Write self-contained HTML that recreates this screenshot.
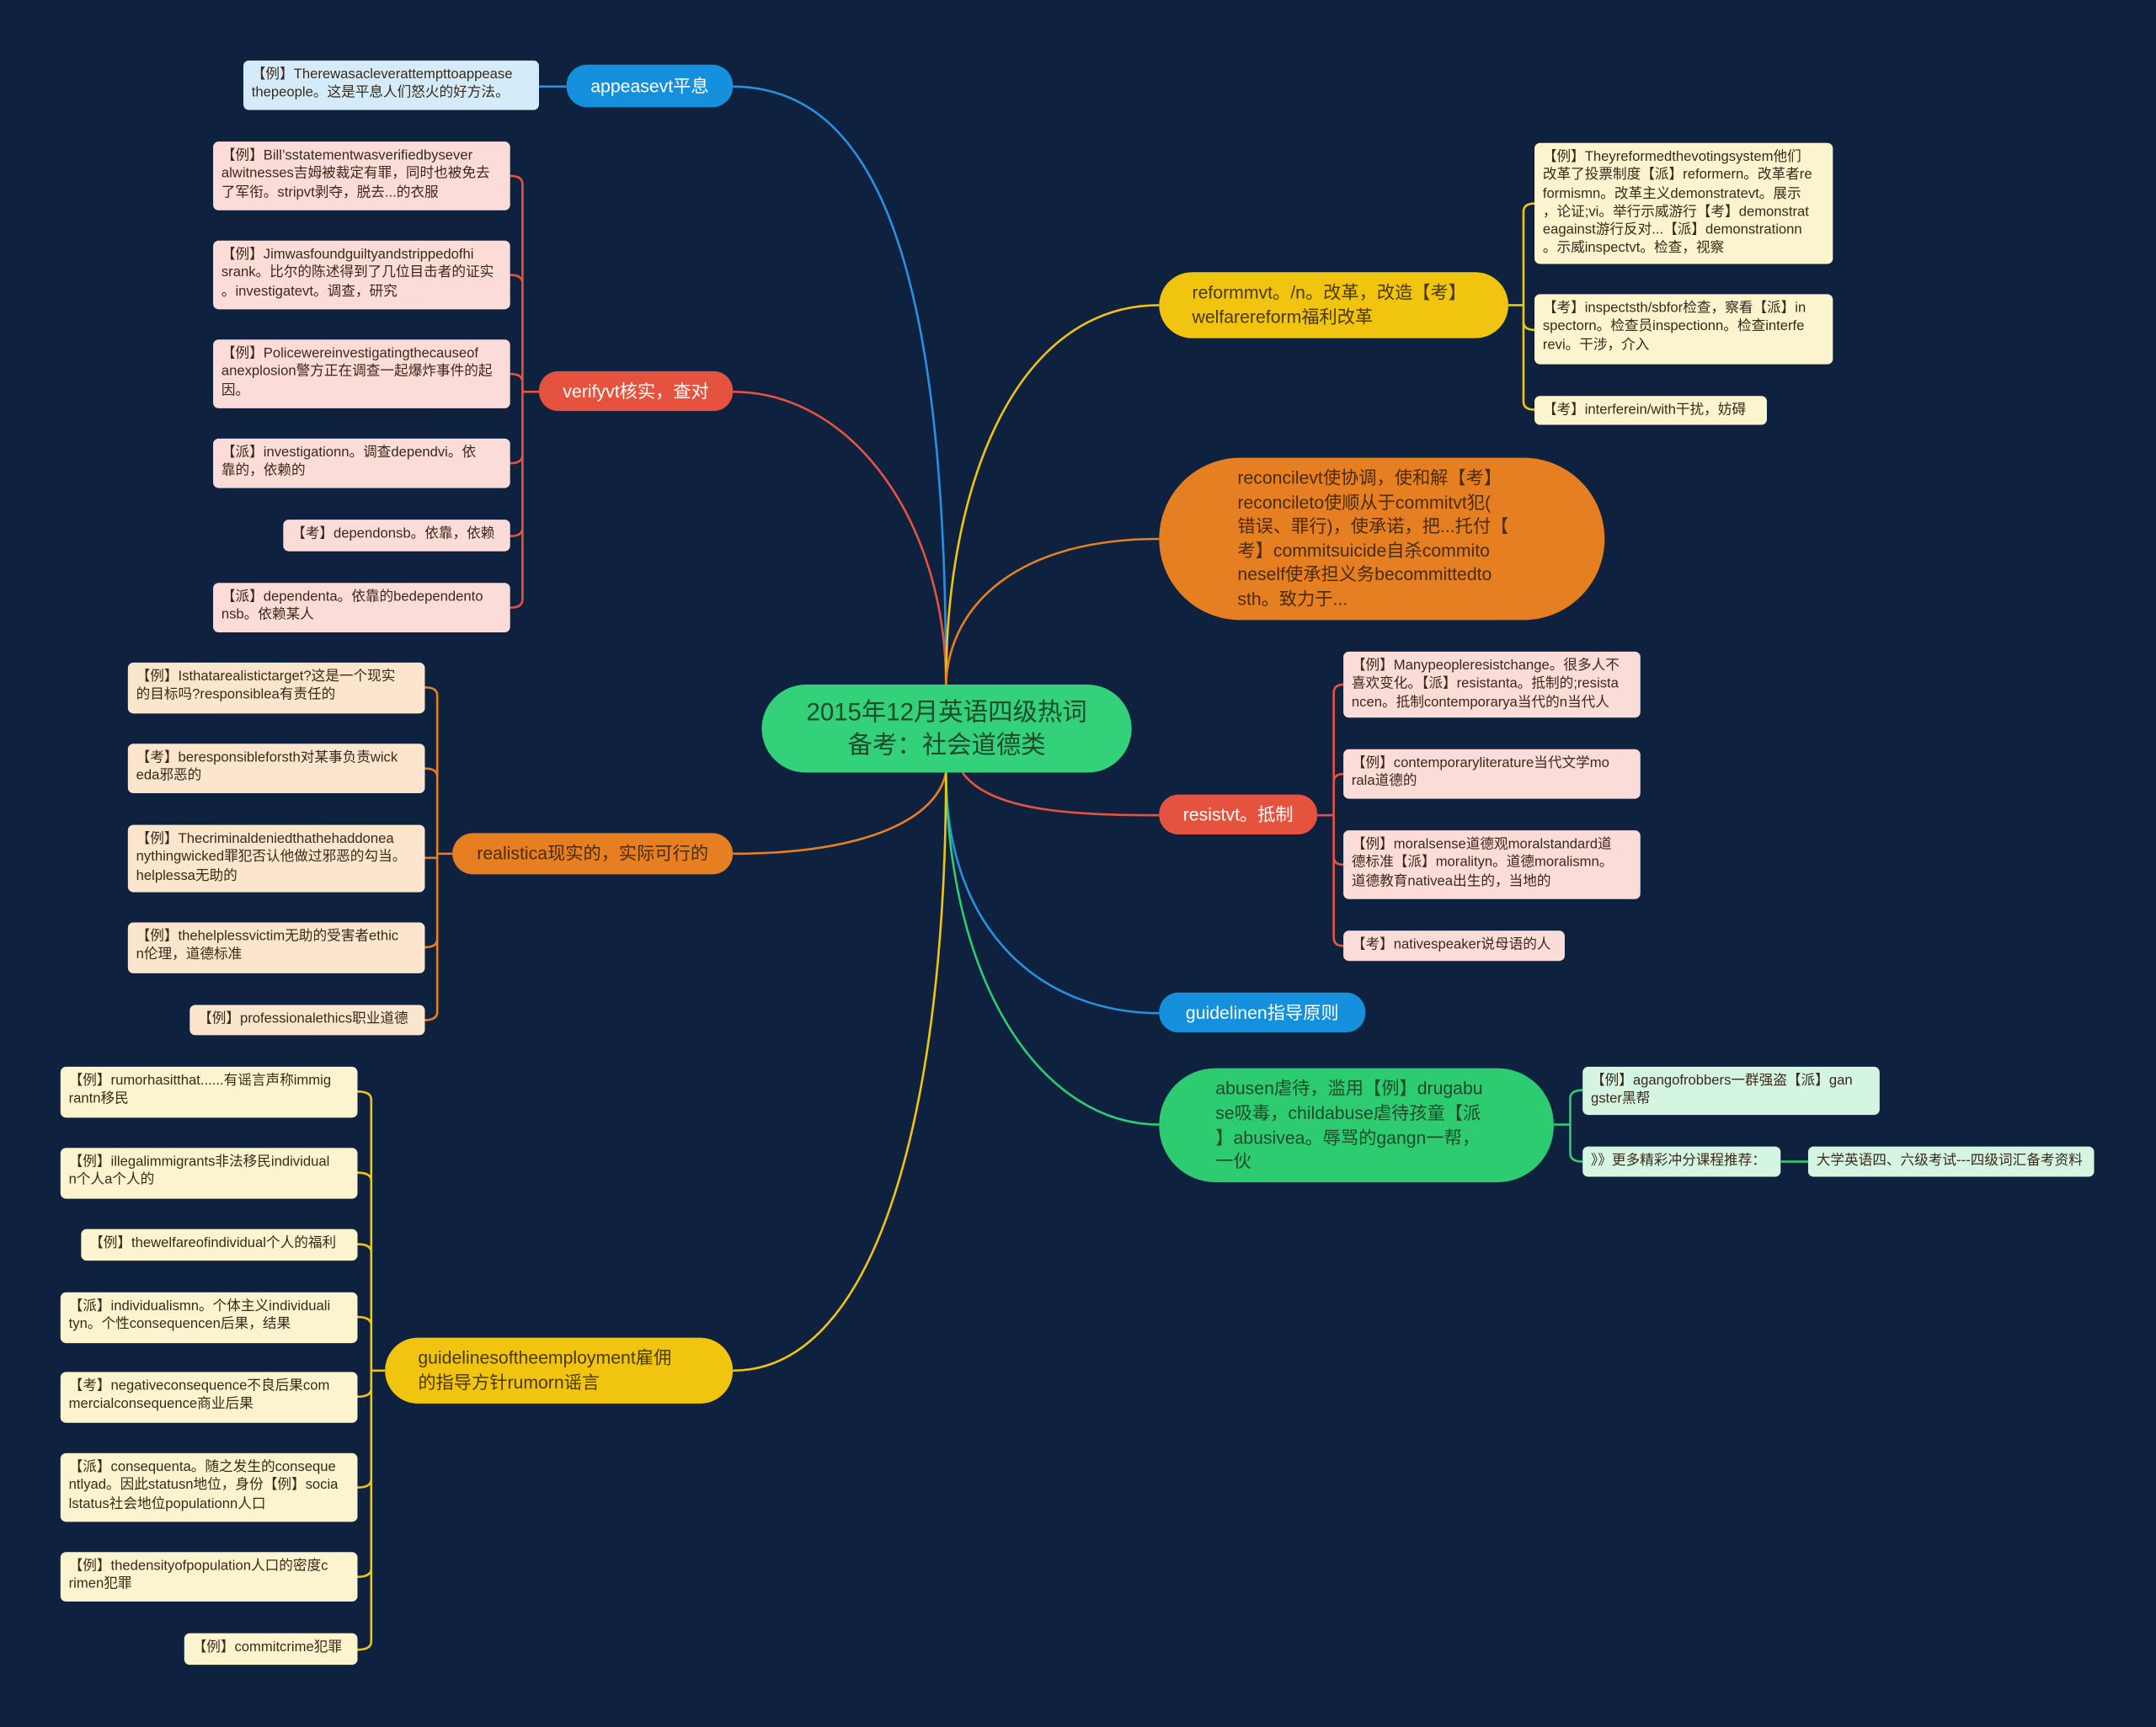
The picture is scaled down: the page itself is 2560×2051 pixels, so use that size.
<!DOCTYPE html>
<html><head><meta charset="utf-8"><style>
html,body{margin:0;padding:0;background:#0e2240;}
#root{position:relative;width:1568px;height:1256px;transform:scale(1.63265);transform-origin:0 0;background:#0e2240;overflow:hidden;font-family:"Liberation Sans","Noto Sans CJK SC",sans-serif;}
.n{position:absolute;box-sizing:border-box;white-space:nowrap;}
.c{font-size:10.2px;line-height:13.3px;padding:4px 6px;border-radius:4px;color:#3b2a1a;}
.y{background:#fcf3cf;}
.p{background:#fbdcd8;}
.o{background:#fce5cd;}
.g{background:#d5f5e3;}
.b{background:#d4ecfa;}
.m{display:flex;align-items:center;font-size:13px;line-height:17.6px;}
svg{position:absolute;left:0;top:0;}
</style></head><body><div id="root">
<svg width="1568" height="1256" fill="none" stroke-width="1.6">
<path d="M533,63 C640,63 688,200 688,498" stroke="#2a8fde"/>
<path d="M533,285 C620,285 688,380 688,498" stroke="#e5533f"/>
<path d="M843,222 C740,222 688,350 688,498" stroke="#f1c40f"/>
<path d="M843,392 C740,392 690,440 688,498" stroke="#e67e22"/>
<path d="M700,562 C720,590 780,593 843,593" stroke="#e5533f"/>
<path d="M688,562 C688,680 760,737 843,737" stroke="#2a8fde"/>
<path d="M688,562 C690,720 760,818 843,818" stroke="#2ecc71"/>
<path d="M533,621 C620,621 680,600 688,562" stroke="#e67e22"/>
<path d="M533,997 C640,997 688,800 688,562" stroke="#f1c40f"/>
<g stroke="#f1c40f"><path d="M1097,222 H1108 M1108,222 V154 Q1108,148 1116,148 M1108,222 V234 Q1108,240 1116,240 M1108,222 V292 Q1108,298 1116,298"/></g>
<g stroke="#e5533f"><path d="M958,593 H970 M970,593 V504 Q970,498 977,498 M970,593 V569 Q970,563 977,563 M970,593 V623 Q970,629 977,629 M970,593 V682 Q970,688 977,688"/></g>
<g stroke="#2ecc71"><path d="M1130,818 H1142 M1142,818 V799 Q1142,793 1151,793 M1142,818 V839 Q1142,845 1151,845 M1295,845 H1315"/></g>
<g stroke="#2a8fde"><path d="M412,63 H392"/></g>
<g stroke="#e5533f"><path d="M392,285 H380 M380,285 V134 Q380,128 371,128 M380,285 V206 Q380,200 371,200 M380,285 V278 Q380,272 371,272 M380,285 V331 Q380,337 371,337 M380,285 V384 Q380,390 371,390 M380,285 V436 Q380,442 371,442"/></g>
<g stroke="#e67e22"><path d="M329,621 H318 M318,621 V506 Q318,500 309,500 M318,621 V565 Q318,559 309,559 M318,621 V624 H309 M318,621 V683 Q318,689 309,689 M318,621 V736 Q318,742 309,742"/></g>
<g stroke="#f1c40f"><path d="M280,997 H270 M270,997 V800 Q270,794 260,794 M270,997 V859 Q270,853 260,853 M270,997 V911 Q270,905 260,905 M270,997 V964 Q270,958 260,958 M270,997 V1010 Q270,1016 260,1016 M270,997 V1076 Q270,1082 260,1082 M270,997 V1141 Q270,1147 260,1147 M270,997 V1194 Q270,1200 260,1200"/></g>
</svg>

<div class="n" style="left:554px;top:498px;width:269px;height:64px;background:#33d17a;border-radius:32px;color:#1f4a2c;font-size:18px;line-height:24px;text-align:center;padding-top:8px;">2015年12月英语四级热词<br>备考：社会道德类</div>

<div class="n m" style="left:843px;top:198px;width:254px;height:48px;background:#f1c40f;border-radius:24px;color:#4a3a08;padding-left:24px;">reformmvt。/n。改革，改造【考】<br>welfarereform福利改革</div>
<div class="n c y" style="left:1116px;top:104px;width:217px;height:88px;">【例】Theyreformedthevotingsystem他们<br>改革了投票制度【派】reformern。改革者re<br>formismn。改革主义demonstratevt。展示<br>，论证;vi。举行示威游行【考】demonstrat<br>eagainst游行反对...【派】demonstrationn<br>。示威inspectvt。检查，视察</div>
<div class="n c y" style="left:1116px;top:214px;width:217px;height:51px;">【考】inspectsth/sbfor检查，察看【派】in<br>spectorn。检查员inspectionn。检查interfe<br>revi。干涉，介入</div>
<div class="n c y" style="left:1116px;top:288px;width:169px;height:21px;">【考】interferein/with干扰，妨碍</div>

<div class="n" style="left:843px;top:333px;width:324px;height:118px;background:#e67e22;border-radius:59px;color:#4a2c0e;font-size:13px;line-height:17.6px;padding:6px 0 0 57px;">reconcilevt使协调，使和解【考】<br>reconcileto使顺从于commitvt犯(<br>错误、罪行)，使承诺，把...托付【<br>考】commitsuicide自杀commito<br>neself使承担义务becommittedto<br>sth。致力于...</div>

<div class="n m" style="left:843px;top:578px;width:115px;height:29px;background:#e5533f;border-radius:14px;color:#fff;justify-content:center;">resistvt。抵制</div>
<div class="n c p" style="left:977px;top:474px;width:216px;height:48px;">【例】Manypeopleresistchange。很多人不<br>喜欢变化。【派】resistanta。抵制的;resista<br>ncen。抵制contemporarya当代的n当代人</div>
<div class="n c p" style="left:977px;top:545px;width:216px;height:36px;">【例】contemporaryliterature当代文学mo<br>rala道德的</div>
<div class="n c p" style="left:977px;top:604px;width:216px;height:50px;">【例】moralsense道德观moralstandard道<br>德标准【派】moralityn。道德moralismn。<br>道德教育nativea出生的，当地的</div>
<div class="n c p" style="left:977px;top:677px;width:161px;height:22px;">【考】nativespeaker说母语的人</div>

<div class="n m" style="left:843px;top:722px;width:150px;height:29px;background:#1590dc;border-radius:14px;color:#fff;justify-content:center;">guidelinen指导原则</div>

<div class="n m" style="left:843px;top:777px;width:287px;height:83px;background:#2ecc71;border-radius:41px;color:#1f4a2c;padding-left:41px;">abusen虐待，滥用【例】drugabu<br>se吸毒，childabuse虐待孩童【派<br>】abusivea。辱骂的gangn一帮，<br>一伙</div>
<div class="n c g" style="left:1151px;top:776px;width:216px;height:35px;">【例】agangofrobbers一群强盗【派】gan<br>gster黑帮</div>
<div class="n c g" style="left:1151px;top:834px;width:144px;height:22px;">》》更多精彩冲分课程推荐：</div>
<div class="n c g" style="left:1315px;top:834px;width:208px;height:22px;">大学英语四、六级考试---四级词汇备考资料</div>

<div class="n m" style="left:412px;top:47px;width:121px;height:31px;background:#1590dc;border-radius:15px;color:#fff;justify-content:center;">appeasevt平息</div>
<div class="n c b" style="left:177px;top:44px;width:215px;height:36px;">【例】Therewasacleverattempttoappease<br>thepeople。这是平息人们怒火的好方法。</div>

<div class="n m" style="left:392px;top:270px;width:141px;height:29px;background:#e5533f;border-radius:14px;color:#fff;justify-content:center;">verifyvt核实，查对</div>
<div class="n c p" style="left:155px;top:103px;width:216px;height:50px;">【例】Bill’sstatementwasverifiedbysever<br>alwitnesses吉姆被裁定有罪，同时也被免去<br>了军衔。stripvt剥夺，脱去...的衣服</div>
<div class="n c p" style="left:155px;top:175px;width:216px;height:50px;">【例】Jimwasfoundguiltyandstrippedofhi<br>srank。比尔的陈述得到了几位目击者的证实<br>。investigatevt。调查，研究</div>
<div class="n c p" style="left:155px;top:247px;width:216px;height:50px;">【例】Policewereinvestigatingthecauseof<br>anexplosion警方正在调查一起爆炸事件的起<br>因。</div>
<div class="n c p" style="left:155px;top:319px;width:216px;height:36px;">【派】investigationn。调查dependvi。依<br>靠的，依赖的</div>
<div class="n c p" style="left:206px;top:378px;width:165px;height:23px;">【考】dependonsb。依靠，依赖</div>
<div class="n c p" style="left:155px;top:424px;width:216px;height:36px;">【派】dependenta。依靠的bedependento<br>nsb。依赖某人</div>

<div class="n m" style="left:329px;top:606px;width:204px;height:30px;background:#e67e22;border-radius:15px;color:#4a2c0e;justify-content:center;">realistica现实的，实际可行的</div>
<div class="n c o" style="left:93px;top:482px;width:216px;height:37px;">【例】Isthatarealistictarget?这是一个现实<br>的目标吗?responsiblea有责任的</div>
<div class="n c o" style="left:93px;top:541px;width:216px;height:36px;">【考】beresponsibleforsth对某事负责wick<br>eda邪恶的</div>
<div class="n c o" style="left:93px;top:600px;width:216px;height:49px;">【例】Thecriminaldeniedthathehaddonea<br>nythingwicked罪犯否认他做过邪恶的勾当。<br>helplessa无助的</div>
<div class="n c o" style="left:93px;top:671px;width:216px;height:37px;">【例】thehelplessvictim无助的受害者ethic<br>n伦理，道德标准</div>
<div class="n c o" style="left:138px;top:731px;width:171px;height:22px;">【例】professionalethics职业道德</div>

<div class="n m" style="left:280px;top:973px;width:253px;height:48px;background:#f1c40f;border-radius:24px;color:#4a3a08;padding-left:24px;">guidelinesoftheemployment雇佣<br>的指导方针rumorn谣言</div>
<div class="n c y" style="left:44px;top:776px;width:216px;height:37px;">【例】rumorhasitthat......有谣言声称immig<br>rantn移民</div>
<div class="n c y" style="left:44px;top:835px;width:216px;height:37px;">【例】illegalimmigrants非法移民individual<br>n个人a个人的</div>
<div class="n c y" style="left:59px;top:894px;width:201px;height:23px;">【例】thewelfareofindividual个人的福利</div>
<div class="n c y" style="left:44px;top:940px;width:216px;height:37px;">【派】individualismn。个体主义individuali<br>tyn。个性consequencen后果，结果</div>
<div class="n c y" style="left:44px;top:998px;width:216px;height:37px;">【考】negativeconsequence不良后果com<br>mercialconsequence商业后果</div>
<div class="n c y" style="left:44px;top:1057px;width:216px;height:50px;">【派】consequenta。随之发生的conseque<br>ntlyad。因此statusn地位，身份【例】socia<br>lstatus社会地位populationn人口</div>
<div class="n c y" style="left:44px;top:1129px;width:216px;height:36px;">【例】thedensityofpopulation人口的密度c<br>rimen犯罪</div>
<div class="n c y" style="left:134px;top:1188px;width:126px;height:23px;">【例】commitcrime犯罪</div>
</div></body></html>
